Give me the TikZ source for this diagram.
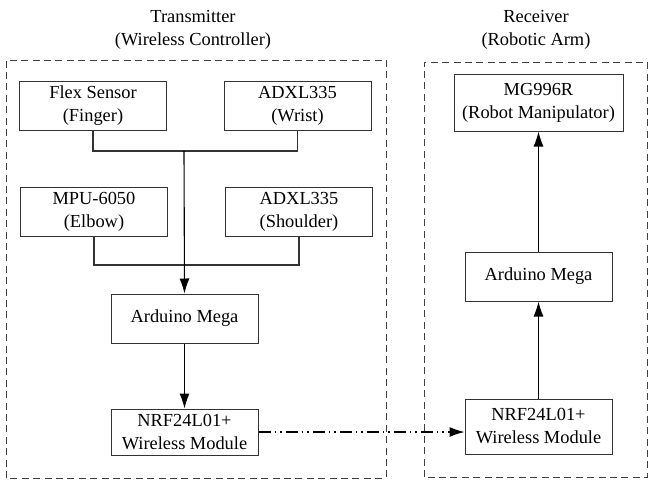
\documentclass[tikz,border=0pt]{standalone}
\usepackage{fontspec}
\setmainfont{Liberation Serif}
\usetikzlibrary{arrows.meta}
\begin{document}
\begin{tikzpicture}[x=0.5pt,y=0.5pt,line cap=butt,line join=miter,
  every node/.style={font=\fontsize{9.2}{11.5}\selectfont,align=center},
  blk/.style={draw=black!80,line width=0.5pt,inner sep=0pt,minimum width=73.5pt,minimum height=24.5pt},
  grp/.style={draw=black!75,line width=0.5pt,dash pattern=on 3.5pt off 2.2pt},
  wire/.style={draw=black!80,line width=0.55pt},
  flow/.style={draw=black,line width=0.55pt,-{Latex[length=7.5pt,width=5pt]}}]
  \useasboundingbox (0,0) rectangle (648,479);
  % groups
  \draw[grp] (6,1) rectangle (386,419);
  \draw[grp] (424,2) rectangle (647,417);
  \node (txT) at (193,449) {Transmitter\\(Wireless Controller)};
  \node (rxT) at (536,449) {Receiver\\(Robotic Arm)};
  % transmitter
  \node[blk] (flex) at (93,373) {Flex Sensor\\(Finger)};
  \node[blk] (wrist) at (297.5,373) {ADXL335\\(Wrist)};
  \node[blk] (mpu) at (94,267.5) {MPU-6050\\(Elbow)};
  \node[blk] (shldr) at (299,267.5) {ADXL335\\(Shoulder)};
  \node[blk] (megaT) at (184.5,160.5) {Arduino Mega};
  \node[blk,minimum height=23pt] (nrfT) at (184.5,47) {NRF24L01+\\Wireless Module};
  % receiver
  \node[blk,minimum width=84.5pt,minimum height=28.5pt] (servo) at (538.5,376.5) {MG996R\\(Robot Manipulator)};
  \node[blk] (megaR) at (538.5,202.5) {Arduino Mega};
  \node[blk,minimum height=27.5pt] (nrfR) at (538.5,52.5) {NRF24L01+\\Wireless Module};
  % wiring
  \coordinate (j1) at (184,328);
  \coordinate (j2) at (184,214);
  \draw[wire] (flex.south) |- (j1) -| (wrist.south);
  \draw[wire] (mpu.south) |- (j2) -| (shldr.south);
  \draw[flow] (j1) -- (megaT.north);
  \draw[flow] (megaT) -- (nrfT);
  \draw[flow,dash pattern=on 6pt off 2pt on 0.75pt off 2pt on 0.75pt off 2pt] (nrfT.east) ++(0,0) -- (nrfR.west |- nrfT.east);
  \draw[flow] (nrfR) -- (megaR);
  \draw[flow] (megaR) -- (servo);
\end{tikzpicture}
\end{document}
